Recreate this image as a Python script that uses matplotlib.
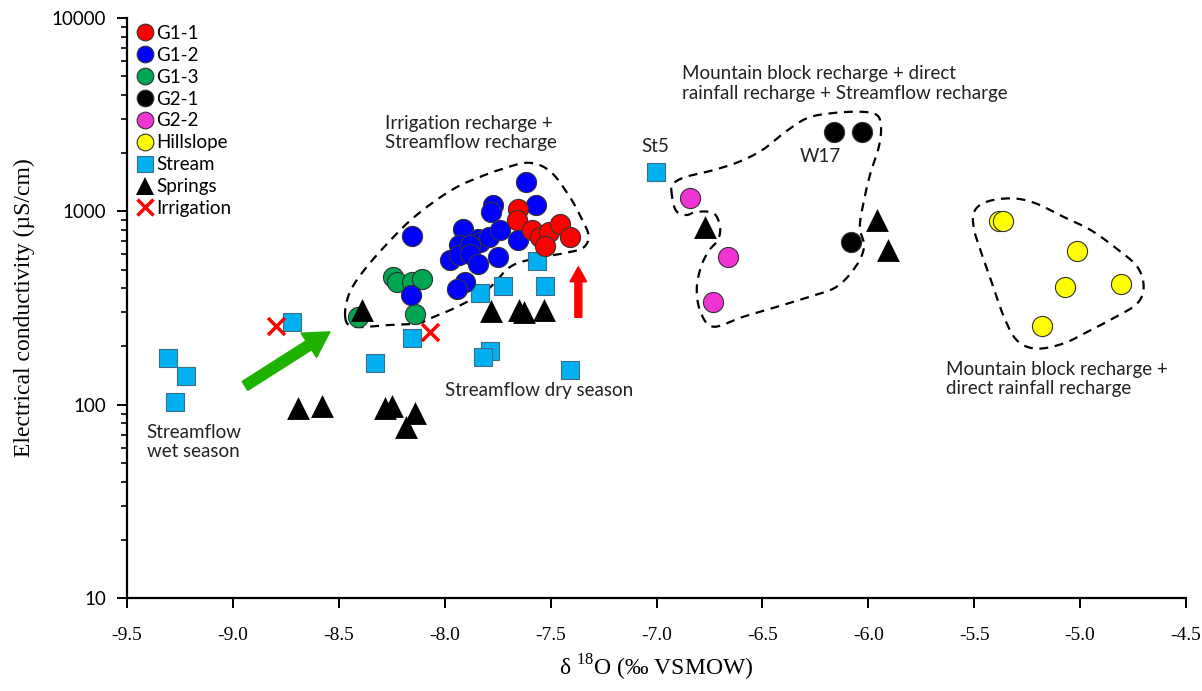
import numpy as np
import matplotlib
matplotlib.use("Agg")
import matplotlib.pyplot as plt
from matplotlib.lines import Line2D

# ---- data (d18O permil VSMOW, EC uS/cm) ----
g11_x = [-7.655, -7.657, -7.589, -7.551, -7.509, -7.457, -7.408, -7.526]
g11_y = [1030, 902, 800, 736, 784, 860, 739, 661]

g12_x = [-7.614, -7.773, -7.781, -7.570, -8.154, -7.912, -7.933, -7.845, -7.833,
         -7.789, -7.741, -7.655, -7.973, -7.933, -7.881, -7.881, -7.841, -7.749,
         -7.904, -7.943, -8.161]
g12_y = [1422, 1072, 995, 1078, 749, 815, 669, 723, 696,
         741, 805, 713, 560, 594, 669, 601, 534, 578,
         431, 395, 371]

g13_x = [-8.408, -8.243, -8.227, -8.156, -8.109, -8.140]
g13_y = [285, 459, 433, 433, 445, 294]

g21_x = [-6.162, -6.031, -6.082]
g21_y = [2582, 2582, 691]

g22_x = [-6.842, -6.661, -6.732]
g22_y = [1176, 578, 341]

hill_x = [-5.381, -5.363, -5.016, -5.071, -4.808, -5.181]
hill_y = [894, 894, 626, 404, 421, 255]

stream_x = [-9.306, -9.221, -9.273, -8.721, -8.329, -8.154, -7.833, -7.725,
            -7.526, -7.564, -7.786, -7.819, -7.408, -7.002]
stream_y = [174, 141, 103, 267, 164, 221, 378, 411,
            411, 553, 189, 176, 151, 1603]

spring_x = [-8.693, -8.579, -8.282, -8.249, -8.140, -8.183, -8.390, -7.781,
            -7.649, -7.626, -7.531, -6.771, -5.959, -5.907]
spring_y = [95.9, 98.3, 96, 98, 90.6, 76.6, 308, 305,
            308, 301, 308, 830, 902, 631]

irr_x = [-8.797, -8.069]
irr_y = [255, 238]

# dashed group outlines (vertices, smoothed below)
zone1_x = [-8.47, -8.43, -8.27, -8.13, -8.07, -7.94, -7.80, -7.69, -7.57, -7.44, -7.35, -7.32,
           -7.35, -7.41, -7.50, -7.60, -7.72, -7.85, -7.94, -8.04, -8.16, -8.27, -8.38, -8.45]
zone1_y = [285, 253, 258, 263, 279, 321, 392, 517, 571, 606, 644, 739,
           902, 1190, 1603, 1783, 1669, 1482, 1340, 1143, 902, 683, 497, 377]

zone2_x = [-6.93, -6.91, -6.86, -6.81, -6.73, -6.70, -6.71, -6.75, -6.79, -6.81, -6.79, -6.73,
           -6.59, -6.43, -6.28, -6.15, -6.06, -6.02, -6.04, -6.02, -5.99, -5.95, -5.94, -5.96,
           -6.04, -6.18, -6.29, -6.39, -6.50, -6.61, -6.73, -6.86, -6.92]
zone2_y = [1288, 1016, 957, 995, 977, 832, 711, 631, 517, 392, 297, 253,
           285, 321, 361, 407, 517, 656, 832, 1143, 1573, 2160, 2740, 3150,
           3275, 3212, 3030, 2582, 2077, 1805, 1635, 1510, 1396]

zone3_x = [-5.50, -5.44, -5.32, -5.21, -5.08, -4.95, -4.83, -4.73, -4.70, -4.73, -4.83, -4.95,
           -5.08, -5.21, -5.30, -5.36, -5.41, -5.46, -5.50]
zone3_y = [995, 1122, 1167, 1100, 938, 800, 644, 517, 407, 334, 285, 243,
           207, 195, 216, 285, 407, 582, 800]


def smooth_closed(xs, ys, n=16):
    # periodic Catmull-Rom through the vertices, in (x, log10 y)
    p = np.column_stack([xs, np.log10(ys)])
    m = len(p)
    t = np.linspace(0, 1, n, endpoint=False)[:, None]
    segs = []
    for i in range(m):
        p0, p1, p2, p3 = p[i - 1], p[i], p[(i + 1) % m], p[(i + 2) % m]
        segs.append(0.5 * (2 * p1 + (-p0 + p2) * t + (2 * p0 - 5 * p1 + 4 * p2 - p3) * t ** 2
                           + (-p0 + 3 * p1 - 3 * p2 + p3) * t ** 3))
    out = np.vstack(segs + [segs[0][:1]])
    return out[:, 0], 10 ** out[:, 1]


SANS = "Lato"
SERIF = "Liberation Serif"
plt.rcParams["mathtext.fontset"] = "custom"
plt.rcParams["mathtext.rm"] = SERIF

fig = plt.figure(figsize=(12.02, 6.91), dpi=100)
ax = fig.add_axes([127 / 1202, 93 / 691, 1059 / 1202, 580 / 691])

ax.set_yscale("log")
ax.set_xlim(-9.5, -4.5)
ax.set_ylim(10, 10000)

# outlines
for zx, zy in [(zone1_x, zone1_y), (zone2_x, zone2_y), (zone3_x, zone3_y)]:
    sx, sy = smooth_closed(zx, zy)
    ax.plot(sx, sy, color="black", lw=1.6, linestyle=(0, (4, 3)), zorder=1)

# arrows
ax.annotate("", xy=(-8.542, 238), xytext=(-8.943, 125),
            arrowprops=dict(arrowstyle="simple,head_width=1.15,head_length=1.0,tail_width=0.42",
                            color="#1DB100", mutation_scale=18, shrinkA=0, shrinkB=0), zorder=2)
ax.annotate("", xy=(-7.369, 517), xytext=(-7.369, 283),
            arrowprops=dict(arrowstyle="simple,head_width=1.0,head_length=0.9,tail_width=0.42",
                            color="#FF0000", mutation_scale=12, shrinkA=0, shrinkB=0), zorder=2)

circ = dict(s=210, marker="o", edgecolors="#333333", linewidths=0.8, zorder=4)
ax.scatter(stream_x, stream_y, s=175, marker="s", color="#00B0F0", edgecolors="#3C6E8C",
           linewidths=0.8, zorder=3)
ax.scatter(spring_x, spring_y, s=270, marker="^", color="black", linewidths=0, zorder=5)
ax.scatter(g13_x, g13_y, color="#00A651", **circ)
ax.scatter(g12_x, g12_y, color="#0000FF", **circ)
ax.scatter(g11_x, g11_y, color="#FF0000", **circ)
ax.scatter(g21_x, g21_y, color="black", **circ)
ax.scatter(g22_x, g22_y, color="#F033D2", **circ)
ax.scatter(hill_x, hill_y, color="#FFFF00", **circ)
ax.scatter(irr_x, irr_y, s=150, marker="x", color="#FF0000", linewidths=2.5, zorder=6)

# annotations
tkw = dict(fontsize=13.5, family=SANS, color="#222222")
ax.text(-8.282, 2541, "Irrigation recharge +\nStreamflow recharge", ha="left", va="center",
        linespacing=1.2, **tkw)
ax.text(-7.007, 2160, "St5", ha="center", va="center", **tkw)
ax.text(-6.225, 1932, "W17", ha="center", va="center", **tkw)
ax.text(-6.881, 4567, "Mountain block recharge + direct\nrainfall recharge + Streamflow recharge",
        ha="left", va="center", linespacing=1.2, **tkw)
ax.text(-5.633, 135.6, "Mountain block recharge +\ndirect rainfall recharge", ha="left",
        va="center", linespacing=1.2, **tkw)
ax.text(-7.999, 119, "Streamflow dry season", ha="left", va="center", **tkw)
ax.text(-9.407, 64.1, "Streamflow\nwet season", ha="left", va="center", linespacing=1.2, **tkw)

# legend
def h(marker, color, ms, edge="#333333", mew=0.8):
    return Line2D([], [], linestyle="none", marker=marker, markersize=ms, markerfacecolor=color,
                  markeredgecolor=edge, markeredgewidth=mew)

handles = [h("o", "#FF0000", 12), h("o", "#0000FF", 12), h("o", "#00A651", 12),
           h("o", "black", 12), h("o", "#F033D2", 12), h("o", "#FFFF00", 12),
           h("s", "#00B0F0", 12, edge="#3C6E8C"), h("^", "black", 13, edge="black", mew=0),
           Line2D([], [], linestyle="none", marker="x", markersize=12, color="#FF0000",
                  markeredgewidth=2.5)]
labels = ["G1-1", "G1-2", "G1-3", "G2-1", "G2-2", "Hillslope", "Stream", "Springs", "Irrigation"]
ax.legend(handles, labels, loc="upper left", bbox_to_anchor=(0.009, 0.988), frameon=False,
          prop=dict(family=SANS, size=13.5), handlelength=0.9, handletextpad=0.15,
          labelspacing=0.26, borderpad=0, borderaxespad=0)

# axes styling
for side in ["top", "right"]:
    ax.spines[side].set_visible(False)
for side in ["left", "bottom"]:
    ax.spines[side].set_linewidth(1.6)

xt = np.arange(-9.5, -4.49, 0.5)
ax.set_xticks(xt)
ax.set_xticklabels(["%.1f" % v for v in xt], family=SERIF, fontsize=14)
ax.set_yticks([10, 100, 1000, 10000])
ax.set_yticklabels(["10", "100", "1000", "10000"], family=SANS, fontsize=13.5)
ax.tick_params(axis="both", which="major", direction="out", length=7, width=1.4, pad=8)
ax.tick_params(axis="x", which="major", pad=14)
ax.tick_params(axis="y", which="minor", direction="out", length=4, width=1.2)

ax.set_xlabel("δ $^{18}$O (‰ VSMOW)", family=SERIF, fontsize=17, labelpad=6)
ax.set_ylabel("Electrical conductivity (µS/cm)", family=SERIF, fontsize=17, labelpad=12)

fig.savefig("out.png", dpi=100)
